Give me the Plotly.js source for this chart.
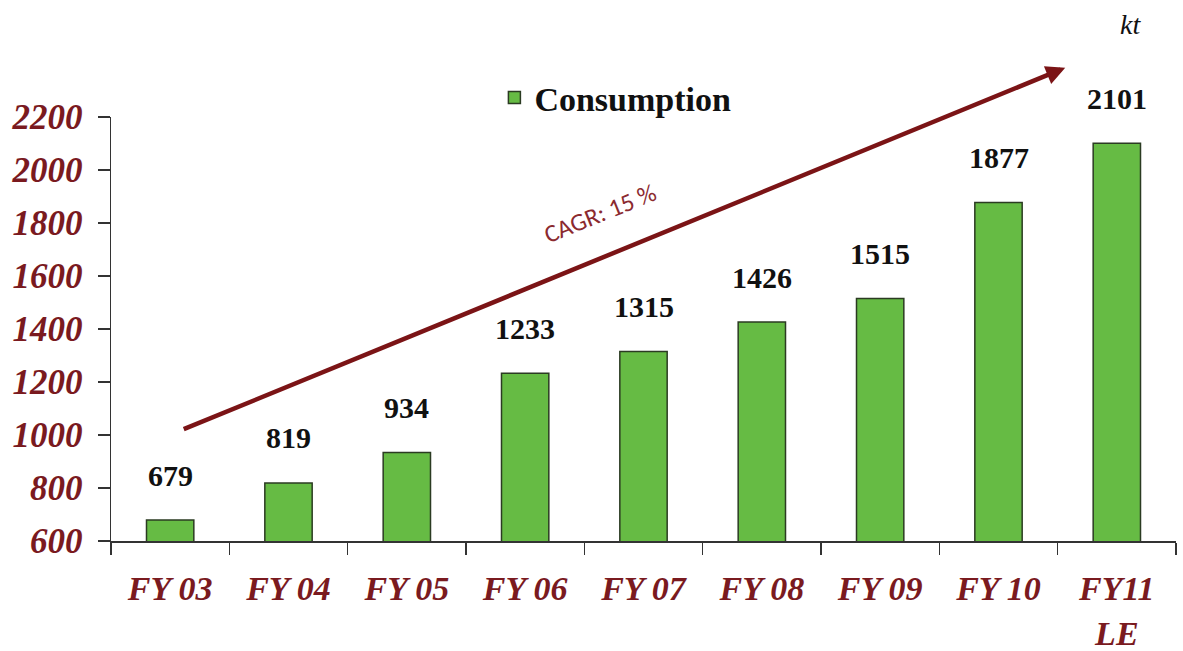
<!DOCTYPE html>
<html>
<head>
<meta charset="utf-8">
<script src="https://cdn.plot.ly/plotly-3.0.1.min.js"></script>
<style>html,body{margin:0;padding:0;background:#fff;}#chart{width:1183px;height:651px;}</style>
</head>
<body>
<div id="chart"></div>
<script>
var categories = ["FY 03", "FY 04", "FY 05", "FY 06", "FY 07", "FY 08", "FY 09", "FY 10", "FY11<br>LE"];
var consumption = [679, 819, 934, 1233, 1315, 1426, 1515, 1877, 2101];
var yTicks = [600, 800, 1000, 1200, 1400, 1600, 1800, 2000, 2200];
var seriesName = "Consumption";
var unitLabel = "kt";
var cagrLabel = "CAGR: 15 %";

var serif = "'Liberation Serif', 'Times New Roman', serif";
var darkRed = "#7a1a1f";

var trace = {
  type: "bar",
  x: categories,
  y: consumption,
  name: seriesName,
  marker: {color: "#66bb44", line: {color: "#2b3b22", width: 1.5}},
  hoverinfo: "x+y"
};

var annotations = consumption.map(function(v, i) {
  return {
    x: categories[i], y: v, xref: "x", yref: "y",
    text: String(v), showarrow: false,
    xanchor: "center", yanchor: "middle", yshift: 45,
    font: {family: serif, size: 30, color: "#111", weight: "bold"}
  };
});

annotations.push({
  xref: "paper", yref: "paper",
  x: 0.896, y: 1.116,
  ax: -883, ay: 362, axref: "pixel", ayref: "pixel",
  showarrow: true, arrowhead: 2, arrowsize: 0.85, arrowwidth: 4.5,
  arrowcolor: "#7b1416", text: ""
});
annotations.push({
  xref: "paper", yref: "paper",
  x: 0.459, y: 0.772, xanchor: "center", yanchor: "middle",
  text: cagrLabel, showarrow: false, textangle: -22,
  font: {family: "Carlito, 'Liberation Sans', Calibri, sans-serif", size: 25, color: "#8b2a2f"}
});
annotations.push({
  xref: "paper", yref: "paper",
  x: 0.957, y: 1.217, xanchor: "center", yanchor: "middle",
  text: unitLabel, showarrow: false,
  font: {family: serif, size: 28, color: "#111", style: "italic"}
});

var layout = {
  width: 1183, height: 651,
  margin: {l: 111, r: 7, t: 117, b: 110},
  paper_bgcolor: "#fff", plot_bgcolor: "#fff",
  bargap: 0.6,
  showlegend: true,
  legend: {
    x: 0.36, y: 1.045, xanchor: "left", yanchor: "middle",
    orientation: "h",
    font: {family: serif, size: 34, color: "#111", weight: "bold"},
    bgcolor: "rgba(0,0,0,0)"
  },
  xaxis: {
    type: "category",
    showline: true, linecolor: "#333", linewidth: 1.5,
    ticks: "outside", tickson: "boundaries", ticklen: 12, tickcolor: "#333", tickwidth: 1.5,
    ticklabelstandoff: 17,
    tickfont: {family: serif, size: 34, color: darkRed, weight: "bold", style: "italic"},
    showgrid: false, zeroline: false,
    fixedrange: true
  },
  yaxis: {
    range: [600, 2200],
    tickvals: yTicks,
    showline: true, linecolor: "#333", linewidth: 1.5,
    ticks: "outside", ticklen: 12, tickcolor: "#333", tickwidth: 1.5,
    ticklabelstandoff: 8,
    tickfont: {family: serif, size: 35, color: darkRed, weight: "bold", style: "italic"},
    showgrid: false, zeroline: false,
    fixedrange: true
  },
  annotations: annotations
};

Plotly.newPlot("chart", [trace], layout, {displayModeBar: false, staticPlot: true});
</script>
</body>
</html>
